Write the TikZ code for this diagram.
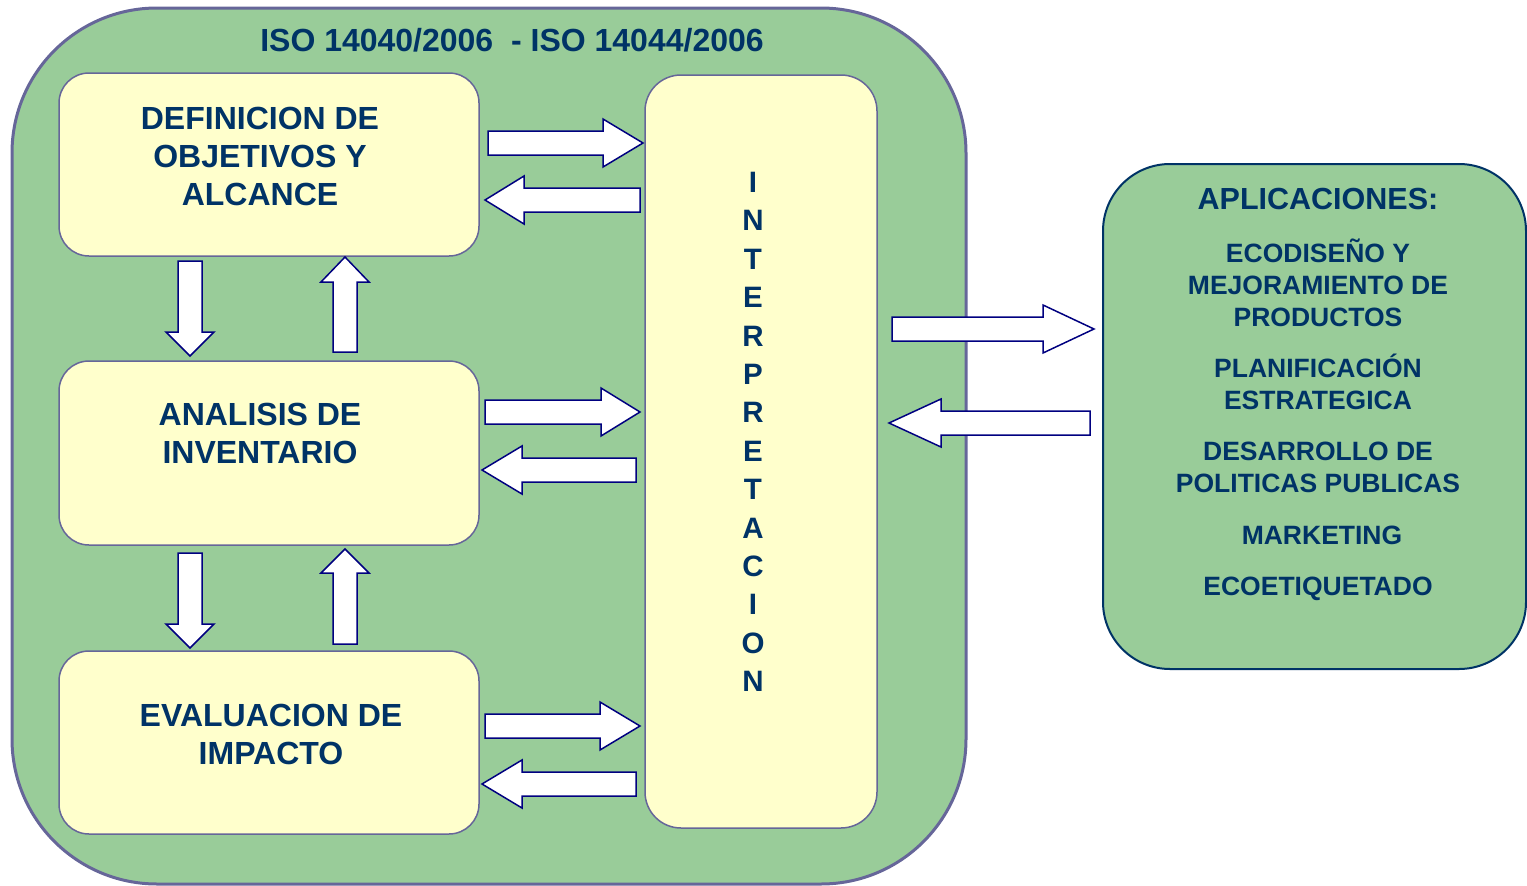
\documentclass[tikz,border=0pt]{standalone}
\usepackage{fontspec}
\setmainfont{Liberation Sans}

\definecolor{leaf}{HTML}{99CC99}
\definecolor{cream}{HTML}{FFFFCC}
\definecolor{frame}{HTML}{666699}
\definecolor{ink}{HTML}{003366}
\definecolor{arrowline}{HTML}{000080}

\tikzset{
  outerbox/.style={draw=frame, line width=3pt, fill=leaf, rounded corners=145pt,
    minimum width=954pt, minimum height=876pt, inner sep=0pt},
  stage/.style={draw=frame, line width=1.5pt, fill=cream, rounded corners=30pt,
    minimum width=420pt, minimum height=183pt, inner sep=0pt},
  interpbox/.style={draw=frame, line width=1.5pt, fill=cream, rounded corners=36pt,
    minimum width=232pt, minimum height=753pt, inner sep=0pt},
  appbox/.style={draw=ink, line width=2pt, fill=leaf, rounded corners=67pt,
    minimum width=423pt, minimum height=505pt, inner sep=0pt},
  % text nodes are placed by the baseline of their last line
  txt/.style={text=ink, align=center, anchor=base, inner sep=0pt},
  titletxt/.style={txt, font=\bfseries\fontsize{32}{40}\selectfont},
  stagetxt/.style={txt, font=\bfseries\fontsize{32}{38}\selectfont},
  interptxt/.style={txt, font=\bfseries\fontsize{29.5}{38.4}\selectfont},
  apptitle/.style={txt, font=\bfseries\fontsize{30.5}{36}\selectfont},
  apptxt/.style={txt, font=\bfseries\fontsize{26.5}{32}\selectfont},
  arrowbody/.style={draw=arrowline, line width=1.5pt, fill=white},
  % block arrow along the local x axis: total length / head length
  pics/blockarrow/.style args={#1/#2}{code={
    \draw[arrowbody] (0,-12) -- ({#1-#2},-12) -- ({#1-#2},-24) -- (#1,0)
      -- ({#1-#2},24) -- ({#1-#2},12) -- (0,12) -- cycle;
  }},
}

\begin{document}
\begin{tikzpicture}[x=1pt,y=-1pt]
\useasboundingbox (0,0) rectangle (1527,886);

% frame of the standard
\node[outerbox] (iso) at (489,446) {};
\node[titletxt] (isotitle) at (512,51.5) {ISO 14040/2006\ \ - ISO 14044/2006};

% phases
\node[stage] (def) at (269,164.5) {};
\node[stage, minimum height=184pt] (inv) at (269,453) {};
\node[stage] (eval) at (269,742.5) {};
\node[interpbox] (interp) at (761,451.5) {};

\node[stagetxt] (deftxt) at (260,205.5) {DEFINICION DE\\OBJETIVOS Y\\ALCANCE};
\node[stagetxt] (invtxt) at (260,463.5) {ANALISIS DE\\INVENTARIO};
\node[stagetxt] (evaltxt) at (271,764.5) {EVALUACION DE\\IMPACTO};
\node[interptxt] (interptxt) at (753,691.6)
  {I\\N\\T\\E\\R\\P\\R\\E\\T\\A\\C\\I\\O\\N};

% applications
\node[appbox] (apps) at (1314.5,416.5) {};
\node[apptitle] (appstitle) at (1318,209) {APLICACIONES:};
\node[apptxt] (app1) at (1318,326.5) {ECODISEÑO Y\\MEJORAMIENTO DE\\PRODUCTOS};
\node[apptxt] (app2) at (1318,409.5) {PLANIFICACIÓN\\ESTRATEGICA};
\node[apptxt] (app3) at (1318,492.5) {DESARROLLO DE\\POLITICAS PUBLICAS};
\node[apptxt] (app4) at (1322,544.5) {MARKETING};
\node[apptxt] (app5) at (1318,595.5) {ECOETIQUETADO};

% exchanges between phases and interpretation
\pic at (488,143) {blockarrow=155/40};
\pic[rotate=180] at (640,200) {blockarrow=155/39};
\pic at (485,412) {blockarrow=155/39};
\pic[rotate=180] at (636,470) {blockarrow=154/40};
\pic at (485,726) {blockarrow=155/40};
\pic[rotate=180] at (636,784) {blockarrow=154/40};

% exchanges between consecutive phases
\pic[rotate=-90] at (190,261) {blockarrow=95/24};
\pic[rotate=90] at (345,352) {blockarrow=95/25};
\pic[rotate=-90] at (190,553) {blockarrow=95/24};
\pic[rotate=90] at (345,644) {blockarrow=95/24};

% exchanges with applications
\pic at (892,329) {blockarrow=202/51};
\pic[rotate=180] at (1090,423) {blockarrow=201/52};
\end{tikzpicture}
\end{document}
